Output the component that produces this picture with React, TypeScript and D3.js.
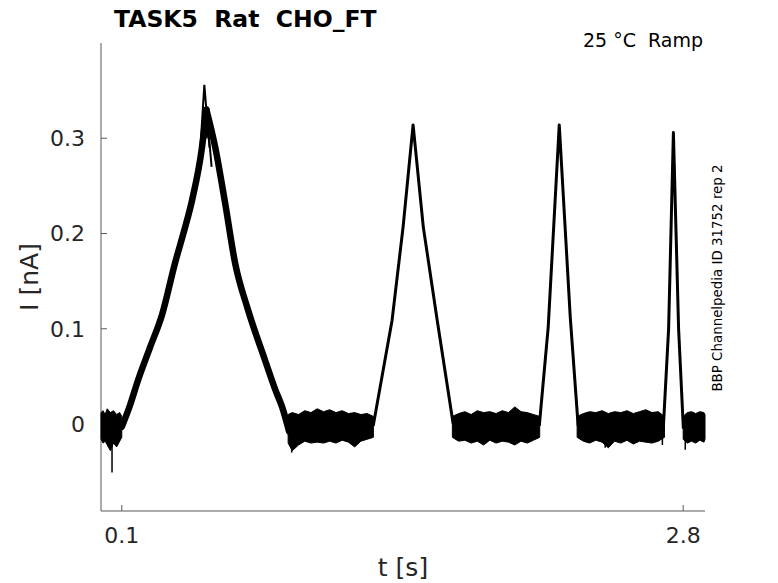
import React from "react";
import * as d3 from "d3";

// time [s], current [nA]
type Pt = [number, number];
type Band = [number, number, number]; // t, upper, lower

const yTicks = [0, 0.1, 0.2, 0.3];
const xTicks = [0.1, 2.8];

// ramp responses (centre of the bundle of sweeps), rise and fall kept apart so the peak stays sharp
const ramp1Up: Pt[] = [
  [0.1, -0.003], [0.14, 0.02], [0.178, 0.046], [0.235, 0.08], [0.294, 0.115], [0.356, 0.169],
  [0.4, 0.203], [0.438, 0.235], [0.486, 0.291], [0.507, 0.33],
];
const ramp1Down: Pt[] = [
  [0.507, 0.33], [0.549, 0.291], [0.597, 0.232], [0.645, 0.169], [0.707, 0.12],
  [0.789, 0.067], [0.84, 0.035], [0.871, 0.018], [0.905, -0.008],
];
const ramp2: Pt[] = [
  [1.309, -0.002], [1.4, 0.109], [1.453, 0.207], [1.501, 0.314], [1.55, 0.207],
  [1.617, 0.109], [1.694, 0.0],
];
const ramp3: Pt[] = [
  [2.108, -0.002], [2.151, 0.102], [2.204, 0.314], [2.257, 0.112], [2.295, -0.002],
];
const ramp4: Pt[] = [
  [2.705, -0.002], [2.73, 0.1], [2.753, 0.306], [2.778, 0.1], [2.801, -0.005],
];

// separate sweeps at the first peak
const peakA: Pt[] = [[0.47, 0.262], [0.497, 0.356], [0.522, 0.29]];
const peakB: Pt[] = [[0.484, 0.29], [0.5, 0.318], [0.508, 0.3], [0.515, 0.312], [0.532, 0.27]];

// holding noise, upper and lower envelope
const noise0: Band[] = [
  [0, 0.012, -0.016], [0.01, 0.014, -0.02], [0.02, 0.01, -0.018], [0.03, 0.016, -0.022],
  [0.045, 0.012, -0.028], [0.06, 0.014, -0.02], [0.075, 0.01, -0.024], [0.09, 0.012, -0.018],
  [0.1, 0.008, -0.014],
];
const noise1: Band[] = [
  [0.9, 0.01, -0.02], [0.92, 0.012, -0.028], [0.95, 0.01, -0.022], [0.98, 0.014, -0.018],
  [1.01, 0.012, -0.02], [1.04, 0.016, -0.019], [1.07, 0.013, -0.02], [1.1, 0.015, -0.018],
  [1.13, 0.012, -0.02], [1.16, 0.014, -0.017], [1.19, 0.011, -0.019], [1.22, 0.012, -0.024],
  [1.25, 0.01, -0.018], [1.28, 0.011, -0.016], [1.31, 0.008, -0.014],
];
const noise2: Band[] = [
  [1.69, 0.008, -0.014], [1.72, 0.011, -0.018], [1.75, 0.013, -0.017], [1.78, 0.01, -0.02],
  [1.81, 0.014, -0.018], [1.84, 0.012, -0.022], [1.87, 0.013, -0.017], [1.9, 0.011, -0.02],
  [1.93, 0.014, -0.018], [1.96, 0.012, -0.019], [1.99, 0.018, -0.022], [2.02, 0.013, -0.018],
  [2.05, 0.012, -0.02], [2.08, 0.01, -0.017], [2.11, 0.008, -0.014],
];
const noise3: Band[] = [
  [2.29, 0.008, -0.014], [2.32, 0.011, -0.018], [2.35, 0.013, -0.02], [2.38, 0.012, -0.017],
  [2.41, 0.014, -0.019], [2.44, 0.011, -0.025], [2.47, 0.013, -0.018], [2.5, 0.012, -0.02],
  [2.53, 0.014, -0.017], [2.56, 0.011, -0.021], [2.59, 0.013, -0.018], [2.62, 0.015, -0.019],
  [2.65, 0.012, -0.02], [2.68, 0.013, -0.018], [2.71, 0.008, -0.014],
];
const noise4: Band[] = [
  [2.8, 0.008, -0.016], [2.82, 0.012, -0.02], [2.84, 0.013, -0.018], [2.86, 0.011, -0.02],
  [2.88, 0.013, -0.017], [2.9, 0.012, -0.019], [2.905, 0.01, -0.016],
];

// single downward glitches
const spikes: Pt[] = [[0.053, -0.051], [0.917, -0.03], [2.425, -0.025], [2.7, -0.022], [2.81, -0.027]];

const W = 778;
const H = 583;
const axisColor = "#595959";
const textColor = "#262626";
const font = "'DejaVu Sans', sans-serif";

export default function App() {
  const x = d3.scaleLinear().domain([0, 2.905]).range([101, 705]);
  const y = d3.scaleLinear().domain([-0.0913, 0.4]).range([511, 43]);

  const line = d3.line<Pt>().x((d) => x(d[0])).y((d) => y(d[1]));
  const smooth = d3.line<Pt>().x((d) => x(d[0])).y((d) => y(d[1])).curve(d3.curveMonotoneX);
  const band = d3
    .area<Band>()
    .x((d) => x(d[0]))
    .y0((d) => y(d[2]))
    .y1((d) => y(d[1]));

  const noises = [noise0, noise1, noise2, noise3, noise4];

  return (
    <svg
      width={W}
      height={H}
      style={{ position: "absolute", left: 0, top: 0, background: "#fff" }}
      fontFamily={font}
    >
      {/* axes */}
      <line x1={x(0)} x2={x(0)} y1={y(0.4)} y2={y(-0.0913)} stroke={axisColor} strokeWidth={1} />
      <line x1={x(0)} x2={x(2.905)} y1={y(-0.0913)} y2={y(-0.0913)} stroke={axisColor} strokeWidth={1} />
      {yTicks.map((t) => (
        <g key={"y" + t}>
          <line x1={x(0)} x2={x(0) + 6} y1={y(t)} y2={y(t)} stroke={axisColor} />
          <text x={85} y={y(t)} dy="0.36em" textAnchor="end" fontSize={22} fill={textColor}>
            {t === 0 ? "0" : String(t)}
          </text>
        </g>
      ))}
      {xTicks.map((t) => (
        <g key={"x" + t}>
          <line x1={x(t)} x2={x(t)} y1={y(-0.0913)} y2={y(-0.0913) - 6} stroke={axisColor} />
          <text x={x(t)} y={543} textAnchor="middle" fontSize={22} fill={textColor}>
            {String(t)}
          </text>
        </g>
      ))}

      {/* traces */}
      <g>
        {noises.map((n, i) => (
          <path key={"n" + i} d={band(n) ?? ""} fill="#000" stroke="#000" strokeWidth={1} />
        ))}
        {spikes.map((s, i) => (
          <line key={"s" + i} x1={x(s[0])} x2={x(s[0])} y1={y(-0.01)} y2={y(s[1])} stroke="#000" strokeWidth={1.5} />
        ))}
        <path d={smooth(ramp1Up) ?? ""} fill="none" stroke="#000" strokeWidth={6.5} strokeLinecap="round" />
        <path d={smooth(ramp1Down) ?? ""} fill="none" stroke="#000" strokeWidth={6.5} strokeLinecap="round" />
        <path d={line(peakA) ?? ""} fill="none" stroke="#000" strokeWidth={2} />
        <path d={line(peakB) ?? ""} fill="none" stroke="#000" strokeWidth={2} />
        {[ramp2, ramp3, ramp4].map((r, i) => (
          <path key={"r" + i} d={line(r) ?? ""} fill="none" stroke="#000" strokeWidth={3} strokeLinejoin="round" />
        ))}
      </g>

      {/* labels */}
      <text x={114} y={27} fontSize={23.5} fontWeight="bold" fill="#000" style={{ whiteSpace: "pre" }}>
        {"TASK5  Rat  CHO_FT"}
      </text>
      <text x={703} y={47} fontSize={19} textAnchor="end" fill="#000" style={{ whiteSpace: "pre" }}>
        {"25 °C  Ramp"}
      </text>
      <text
        transform={`translate(722,278) rotate(-90)`}
        textAnchor="middle"
        fontSize={13.4}
        fill="#000"
      >
        BBP Channelpedia ID 31752 rep 2
      </text>
      <text transform={`translate(38,277) rotate(-90)`} textAnchor="middle" fontSize={25} fill={textColor}>
        I [nA]
      </text>
      <text x={403} y={576} textAnchor="middle" fontSize={25} fill={textColor}>
        t [s]
      </text>
    </svg>
  );
}
